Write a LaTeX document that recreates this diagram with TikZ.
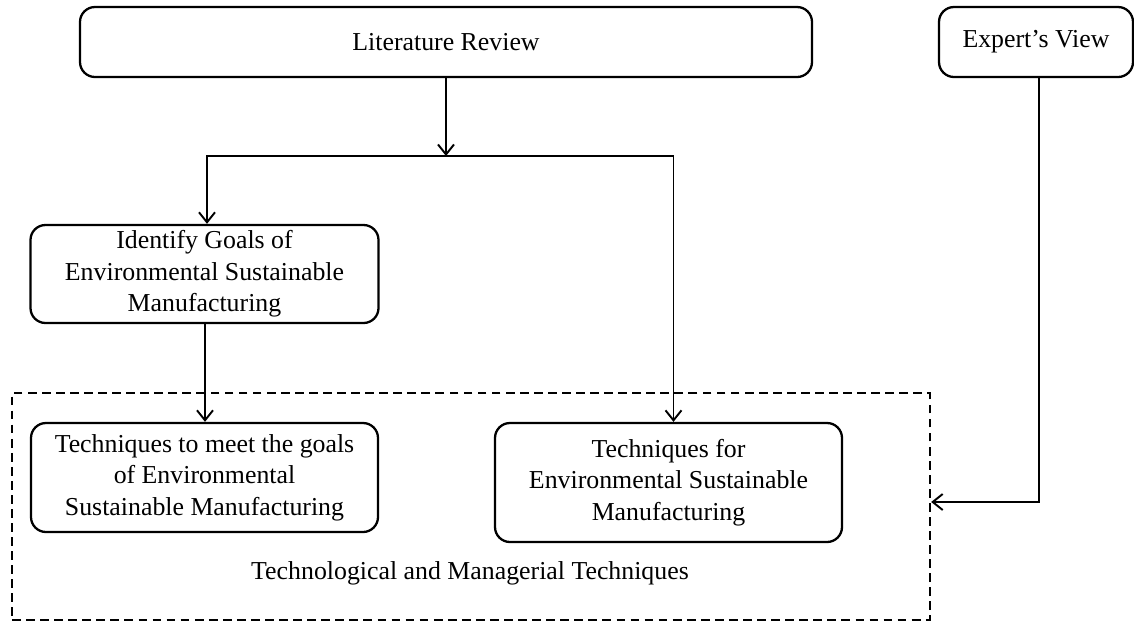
\documentclass[tikz,border=0pt]{standalone}
\usepackage{fontspec}
\setmainfont{Liberation Serif}
\usetikzlibrary{calc,arrows.meta}
\tikzset{
  stagebox/.style = {draw, line width=1.3pt, rounded corners=0.3cm, align=center,
    inner sep=1pt, font=\fontsize{14.7}{18}\selectfont},
  flow/.style = {line width=1.1pt, -{Straight Barb[length=2mm,width=3.2mm,line width=1.1pt]}},
  groupframe/.style = {draw, line width=1.3pt, dash pattern=on 5pt off 3pt,
    minimum width=18.36cm, minimum height=4.54cm}
}
\begin{document}
\begin{tikzpicture}
    \useasboundingbox (0,0) rectangle (22.68,-12.46);

    % outer dashed group
    \node[groupframe] (group) at (9.42,-10.13) {};
    \node[font=\fontsize{14.7}{18}\selectfont] (grouplabel) at (9.4,-11.46)
        {Technological and Managerial Techniques};

    % boxes
    \node[stagebox, minimum width=14.64cm, minimum height=1.4cm] (litrev) at (8.92,-0.84)
        {Literature Review};
    \node[stagebox, minimum width=3.88cm, minimum height=1.4cm] (expert) at (20.72,-0.84)
        {Expert's View};
    \node[stagebox, minimum width=6.96cm, minimum height=1.96cm] (goals) at (4.09,-5.48)
        {Identify Goals of\\Environmental Sustainable\\Manufacturing};
    \node[stagebox, minimum width=6.94cm, minimum height=2.18cm] (meetgoals) at (4.09,-9.55)
        {Techniques to meet the goals\\of Environmental\\Sustainable Manufacturing};
    \node[stagebox, minimum width=6.94cm, minimum height=2.38cm] (techfor) at (13.37,-9.65)
        {Techniques for\\Environmental Sustainable\\Manufacturing};

    % connectors
    \coordinate (split) at (8.92,-3.12);
    \coordinate (expertin) at (group.east |- 0,-10.04);
    \draw[flow] (litrev.south) -- (split);
    \draw[flow] (split) -| ($(goals.north)+(0.05,0)$);
    \draw[flow] (split) -| ($(techfor.north)+(0.1,0)$);
    \draw[flow] ($(goals.south)+(0.01,0)$) -- ($(meetgoals.north)+(0.01,0)$);
    \draw[flow] ($(expert.south)+(0.06,0)$) |- (expertin);
\end{tikzpicture}
\end{document}
